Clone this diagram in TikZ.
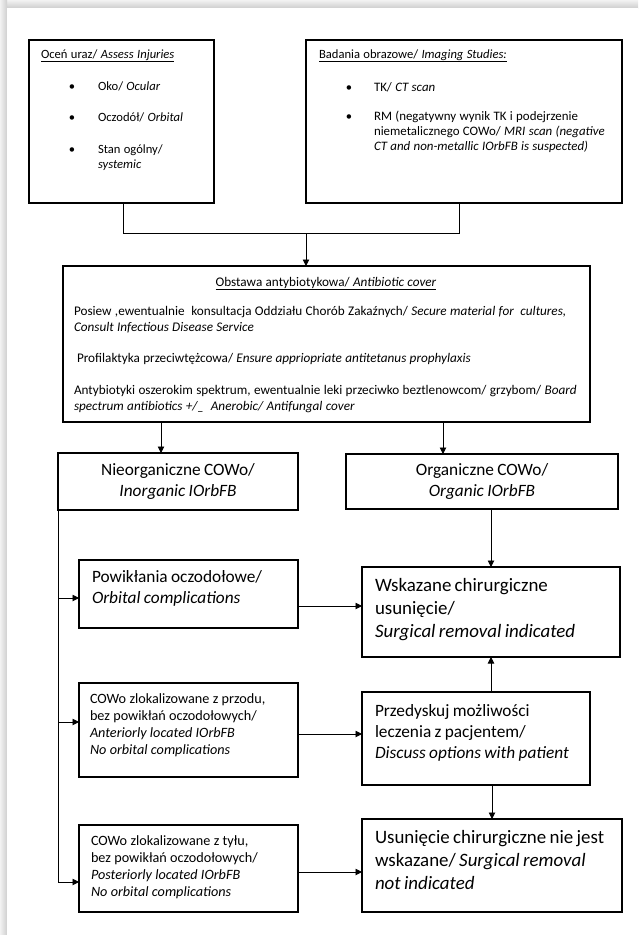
\documentclass[tikz,border=0pt]{standalone}
\usepackage{fontspec}
\setmainfont{Carlito}
\usetikzlibrary{arrows.meta}
\newcommand{\fsS}{\fontsize{12.6}{15.4}\selectfont}
\newcommand{\fsB}{\fontsize{13.2}{16}\selectfont}
\newcommand{\fsM}{\fontsize{14.2}{16.9}\selectfont}
\newcommand{\fsL}{\fontsize{17.3}{21.2}\selectfont}
\newcommand{\fsX}{\fontsize{18.9}{23}\selectfont}
\begin{document}
\begin{tikzpicture}[x=1pt,y=-1pt,
  box/.style={draw=black, line width=1.2pt, inner sep=0pt, outer sep=0pt, anchor=north west},
  txt/.style={anchor=base west, inner sep=0pt, outer sep=0pt, align=left},
  ctxt/.style={anchor=base, inner sep=0pt, outer sep=0pt, align=center},
  bul/.style={anchor=base, inner sep=0pt, outer sep=0pt, font=\fsS},
  conn/.style={line width=0.9pt, draw=black},
  arr/.style={conn, -{Triangle[length=6.5pt,width=6.5pt]}}]
% page and shadow
\fill[gray!28] (0,0) rectangle (638,935);
\shade[top color=gray!10, bottom color=gray!38] (0,0) rectangle (638,8);
\shade[left color=gray!10, right color=gray!38] (0,0) rectangle (7,935);
\fill[white] (7,8) rectangle (638,935);
\useasboundingbox (0,0) rectangle (638,935);

% boxes
\node[box, minimum width=185pt, minimum height=163pt] (b1) at (29,40) {};
\node[box, minimum width=316pt, minimum height=163pt] (b2) at (306,40) {};
\node[box, minimum width=527pt, minimum height=156pt] (b3) at (63,266) {};
\node[box, minimum width=240pt, minimum height=57pt] (nie) at (58,453) {};
\node[box, minimum width=272pt, minimum height=55pt] (org) at (346,454) {};
\node[box, minimum width=219pt, minimum height=68pt] (pow) at (79,560) {};
\node[box, minimum width=258pt, minimum height=90pt] (wsk) at (362,567) {};
\node[box, minimum width=219pt, minimum height=94pt] (prd) at (79,683) {};
\node[box, minimum width=228pt, minimum height=93pt] (prz) at (362,692) {};
\node[box, minimum width=219pt, minimum height=87pt] (tyl) at (79,825) {};
\node[box, minimum width=260pt, minimum height=93pt] (usu) at (362,819) {};

% box 1 text
\node[txt, text width=170pt] (t1) at (41,58) {\fsS\underline{Oceń uraz/ \textit{Assess Injuries}}\par};
\node[bul] (t1ba) at (72,90) {•};
\node[txt, text width=110pt] (t1a) at (98,90) {\fsS Oko/ \textit{Ocular}\par};
\node[bul] (t1bb) at (72,121) {•};
\node[txt, text width=110pt] (t1b) at (98,121) {\fsS Oczodół/ \textit{Orbital}\par};
\node[bul] (t1bc) at (72,153) {•};
\node[txt, text width=110pt] (t1c) at (98,153) {\fsS Stan ogólny/\\\textit{systemic}\par};

% box 2 text
\node[txt, text width=300pt] (t2) at (319,58) {\fsS\underline{Badania obrazowe/ \textit{Imaging Studies:}}\par};
\node[bul] (t2ba) at (349,91) {•};
\node[txt, text width=240pt] (t2a) at (374,91) {\fontsize{12.9}{15.4}\selectfont TK/ \textit{CT scan}\par};
\node[bul] (t2bb) at (349,120) {•};
\node[txt, text width=245pt] (t2b) at (374,120) {\fontsize{12.9}{15.2}\selectfont RM (negatywny wynik TK i podejrzenie\\niemetalicznego COWo/ \textit{MRI scan (negative}\\\textit{CT and non-metallic IOrbFB is suspected)}\par};

% box 3 text
\node[ctxt, text width=500pt] (t3) at (326,286) {\fsB\underline{Obstawa antybiotykowa/ \textit{Antibiotic cover}}\par};
\node[txt, text width=515pt] (t3a) at (74,315) {\fsB Posiew ,ewentualnie\ \ konsultacja Oddziału Chorób Zakaźnych/ \textit{Secure material for\ \ cultures,}\\\textit{Consult Infectious Disease Service}\par};
\node[txt, text width=515pt] (t3b) at (74,362) {\fsB\hspace{3pt}Profilaktyka przeciwtężcowa/ \textit{Ensure appriopriate antitetanus prophylaxis}\par};
\node[txt, text width=515pt] (t3c) at (74,394) {\fsB Antybiotyki oszerokim spektrum, ewentualnie leki przeciwko beztlenowcom/ grzybom/ \textit{Board}\\\textit{spectrum antibiotics +/\_\ \ Anerobic/ Antifungal cover}\par};

% level 2
\node[ctxt, text width=230pt] (tn) at (178,475.7) {\fsL Nieorganiczne COWo/\\\textit{Inorganic IOrbFB}\par};
\node[ctxt, text width=260pt] (to) at (482,475.7) {\fsL Organiczne COWo/\\\textit{Organic IOrbFB}\par};

% left column text
\node[txt, text width=205pt] (tp) at (92,582) {\fsL Powikłania oczodołowe/\\\textit{Orbital complications}\par};
\node[txt, text width=205pt] (tpd) at (90,703.3) {\fsM COWo zlokalizowane z przodu,\\bez powikłań oczodołowych/\\\textit{Anteriorly located IOrbFB}\\\textit{No orbital complications}\par};
\node[txt, text width=205pt] (tt) at (91,845.3) {\fsM COWo zlokalizowane z tyłu,\\bez powikłań oczodołowych/\\\textit{Posteriorly located IOrbFB}\\\textit{No orbital complications}\par};

% right column text
\node[txt, text width=245pt] (tw) at (375,591) {\fsX Wskazane chirurgiczne\\usunięcie/\\\textit{Surgical removal indicated}\par};
\node[txt, text width=215pt] (tz) at (375,716) {\fsL Przedyskuj możliwości\\leczenia z pacjentem/\\\textit{Discuss options with patient}\par};
\node[txt, text width=245pt] (tu) at (375,843.3) {\fsX Usunięcie chirurgiczne nie jest\\wskazane/ \textit{Surgical removal}\\\textit{not indicated}\par};

% connectors
\coordinate (jl) at (123,233);
\coordinate (jr) at (459,233);
\coordinate (jm) at (306,233);
\draw[conn] (b1.south -| jl) -- (jl) -- (jr) -- (b2.south -| jr);
\draw[arr] (jm) -- (b3.north -| jm);
\coordinate (xa) at (161,0);
\coordinate (xb) at (443,0);
\draw[arr] (b3.south -| xa) -- (nie.north -| xa);
\draw[arr] (b3.south -| xb) -- (org.north -| xb);
\draw[arr] (org.south -| wsk.north) -- (wsk.north);
\draw[arr] (prz.north -| wsk.south) -- (wsk.south);
\draw[arr] (prz.south -| usu.north) -- (usu.north);
\coordinate (l1) at (58,598);
\coordinate (l2) at (58,722);
\coordinate (l3) at (58,882);
\draw[arr] (nie.south west) -- (l3) -- (tyl.west |- l3);
\draw[arr] (l1) -- (pow.west |- l1);
\draw[arr] (l2) -- (prd.west |- l2);
\coordinate (h1) at (0,606);
\coordinate (h2) at (0,734);
\coordinate (h3) at (0,872);
\draw[arr] (pow.east |- h1) -- (wsk.west |- h1);
\draw[arr] (prd.east |- h2) -- (prz.west |- h2);
\draw[arr] (tyl.east |- h3) -- (usu.west |- h3);
\end{tikzpicture}
\end{document}
